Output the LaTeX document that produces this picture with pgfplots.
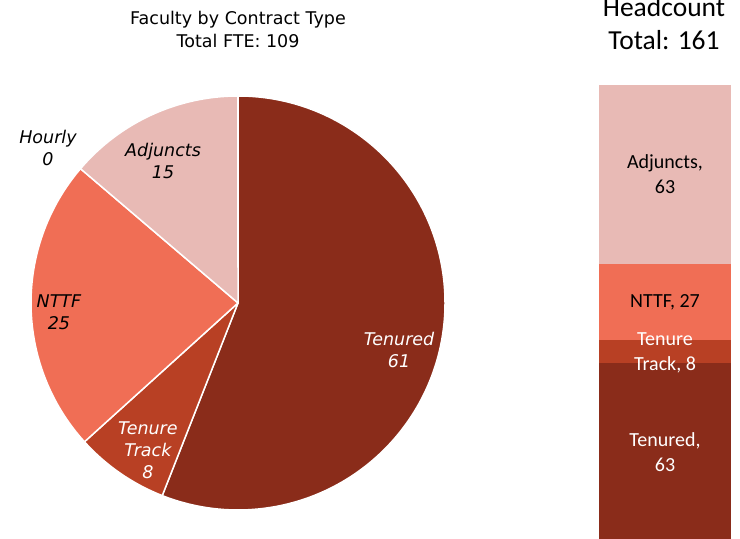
\documentclass[border=0pt]{standalone}
\usepackage{pgfplots}
\pgfplotsset{compat=1.18}
\usepackage{fontspec}
\setmainfont{DejaVu Sans}
\newfontfamily\calibri{Carlito}
\definecolor{cTen}{HTML}{8A2C1A}
\definecolor{cTT}{HTML}{B84024}
\definecolor{cNT}{HTML}{F06E55}
\definecolor{cAdj}{HTML}{E8BAB5}

% FTE by contract type (pie), clockwise from 12 o'clock: value/colour
\def\fteslices{61/cTen, 8/cTT, 25/cNT, 0/white, 15/cAdj}
\def\ftetotal{109}

% precompute wedge angles
\xdef\piecur{90}
\gdef\piecmds{}
\foreach \sv/\sc in \fteslices {
  \pgfmathsetmacro\pienext{\piecur - \sv/\ftetotal*360}
  \ifdim\sv pt>0pt
    \xdef\piecmds{\piecmds
      \noexpand\fill[\sc, draw=white, line width=1.5bp, line join=round]
      (axis cs:0,0) -- ++(\piecur:207bp) arc[start angle=\piecur, end angle=\pienext, radius=207bp] -- cycle;}
  \fi
  \xdef\piecur{\pienext}
}

\begin{document}
\begin{tikzpicture}[x=1bp,y=1bp]
\useasboundingbox (0,0) rectangle (740,539);

% ---------- Pie ----------
\begin{axis}[at={(238bp,236bp)}, anchor=center, scale only axis,
  width=414bp, height=414bp, xmin=-1, xmax=1, ymin=-1, ymax=1,
  hide axis, clip=false]
  \piecmds
  \node[black, align=center, font=\fontsize{17.5bp}{22bp}\selectfont\itshape] at (axis cs:-0.918,0.751) {Hourly\\0};
  \node[black, align=center, font=\fontsize{17.5bp}{22bp}\selectfont\itshape] at (axis cs:-0.362,0.686) {Adjuncts\\15};
  \node[black, align=center, font=\fontsize{17.5bp}{22bp}\selectfont\itshape] at (axis cs:-0.865,-0.043) {NTTF\\25};
  \node[white, align=center, font=\fontsize{17.5bp}{22bp}\selectfont\itshape] at (axis cs:-0.435,-0.710) {Tenure\\Track\\8};
  \node[white, align=center, font=\fontsize{17.5bp}{22bp}\selectfont\itshape] at (axis cs:0.778,-0.225) {Tenured\\61};
\end{axis}

% ---------- Stacked bar (headcount) ----------
\begin{axis}[at={(599.3bp,-3bp)}, anchor=south west, scale only axis,
  width=131.4bp, height=457bp, xmin=0, xmax=1, ymin=0, ymax=161,
  hide axis, clip=false, ybar stacked, bar width=131.4bp]
  \addplot[fill=cTen, draw=none] coordinates {(0.5,63)};
  \addplot[fill=cTT, draw=none] coordinates {(0.5,8)};
  \addplot[fill=cNT, draw=none] coordinates {(0.5,27)};
  \addplot[fill=cAdj, draw=none] coordinates {(0.5,63)};
  \coordinate (lTen) at (axis cs:0.5,31.5);
  \coordinate (lTT) at (axis cs:0.5,66.6);
  \coordinate (lNT) at (axis cs:0.5,84.5);
  \coordinate (lAdj) at (axis cs:0.5,129.5);
\end{axis}
\begin{scope}[every node/.style={align=center, font=\calibri\fontsize{20bp}{25bp}\selectfont}]
  \node[white] at (lTen) {Tenured,\\63};
  \node[white] at (lTT) {Tenure\\Track, 8};
  \node[black] at (lNT) {NTTF, 27};
  \node[black] at (lAdj) {Adjuncts,\\63};
\end{scope}

% ---------- Titles ----------
\node[align=center, font=\fontsize{17.5bp}{23bp}\selectfont] at (238,510) {Faculty by Contract Type\\Total FTE: 109};
\node[align=center, font=\calibri\fontsize{27.5bp}{33bp}\selectfont] at (664,515) {Headcount\\Total: 161};
\end{tikzpicture}
\end{document}
